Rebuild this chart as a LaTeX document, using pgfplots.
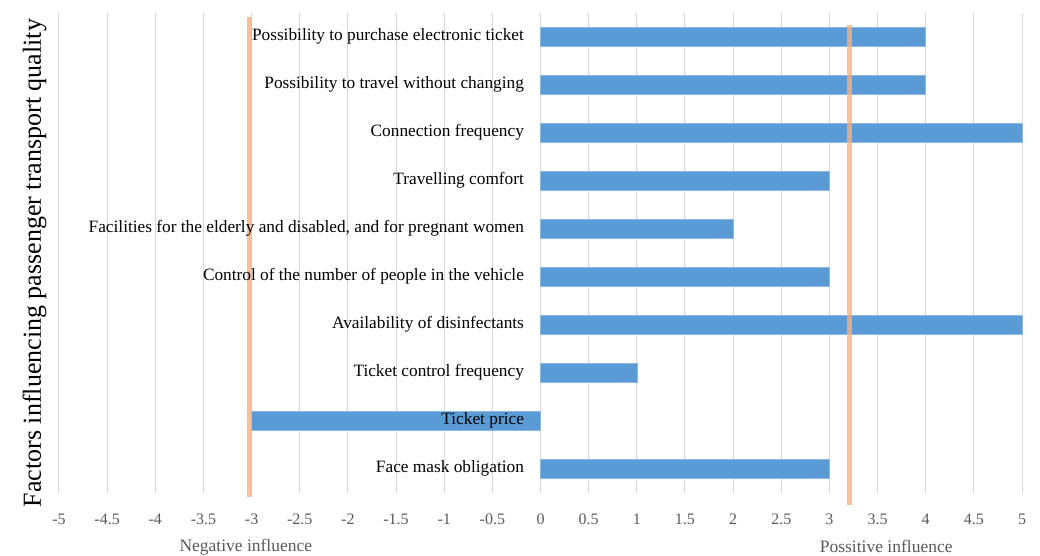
\documentclass[border=0pt]{standalone}
\usepackage{pgfplots}
\pgfplotsset{compat=1.18}
\usepackage{fontspec}
\setmainfont{Liberation Serif}
\definecolor{barblue}{HTML}{5B9BD5}
\definecolor{lineorange}{HTML}{F4B183}
\definecolor{gridgray}{HTML}{D9D9D9}
\definecolor{ticktext}{HTML}{595959}
\begin{document}
\begin{tikzpicture}
\begin{axis}[
  scale only axis,
  width=963pt, height=480pt,
  xmin=-5, xmax=5, ymin=-0.5, ymax=9.5,
  xtick={-5,-4.5,...,5},
  xticklabels={-5,-4.5,-4,-3.5,-3,-2.5,-2,-1.5,-1,-0.5,0,0.5,1,1.5,2,2.5,3,3.5,4,4.5,5},
  ytick=\empty,
  xmajorgrids, grid style={gridgray, line width=1pt},
  major tick length=0pt,
  axis line style={draw=none},
  x tick label style={font=\fontsize{16}{18}\selectfont, text=ticktext, yshift=-17pt},
  /pgf/number format/assume math mode=true,
  clip=false,
  ylabel={Factors influencing passenger transport quality},
  ylabel style={font=\fontsize{26}{30}\selectfont, yshift=9pt, xshift=-10pt},
]
\addplot[xbar, bar width=19pt, fill=barblue, draw=barblue!70!white, line width=0.6pt] coordinates {
(3,0) (-3,1) (1,2) (5,3) (3,4) (2,5) (3,6) (5,7) (4,8) (4,9)};
\addplot[lineorange, line width=5pt, opacity=0.8, forget plot] coordinates {(-3.02,9.42) (-3.02,-0.58)};
\addplot[lineorange, line width=5pt, opacity=0.8, forget plot] coordinates {(3.21,9.25) (3.21,-0.75)};
\foreach \i/\t in {0/Face mask obligation,1/Ticket price,2/Ticket control frequency,3/Availability of disinfectants,4/Control of the number of people in the vehicle,5/{Facilities for the elderly and disabled, and for pregnant women},6/Travelling comfort,7/Connection frequency,8/Possibility to travel without changing,9/Possibility to purchase electronic ticket} {
  \edef\tmp{\noexpand\node[anchor=east, font=\noexpand\fontsize{17.3}{20}\noexpand\selectfont, inner sep=0pt] at (axis cs:-0.17,\i) {\noexpand\strut \unexpanded\expandafter{\t}};}
  \tmp
}
\node[font=\fontsize{17.5}{20}\selectfont, text=ticktext] at (axis cs:-3.06,-1.62) {Negative influence};
\node[font=\fontsize{17.5}{20}\selectfont, text=ticktext] at (axis cs:3.59,-1.62) {Possitive influence};
\end{axis}
\pgfresetboundingbox
\path (-59pt,-63pt) rectangle (981pt,493pt);
\end{tikzpicture}
\end{document}
